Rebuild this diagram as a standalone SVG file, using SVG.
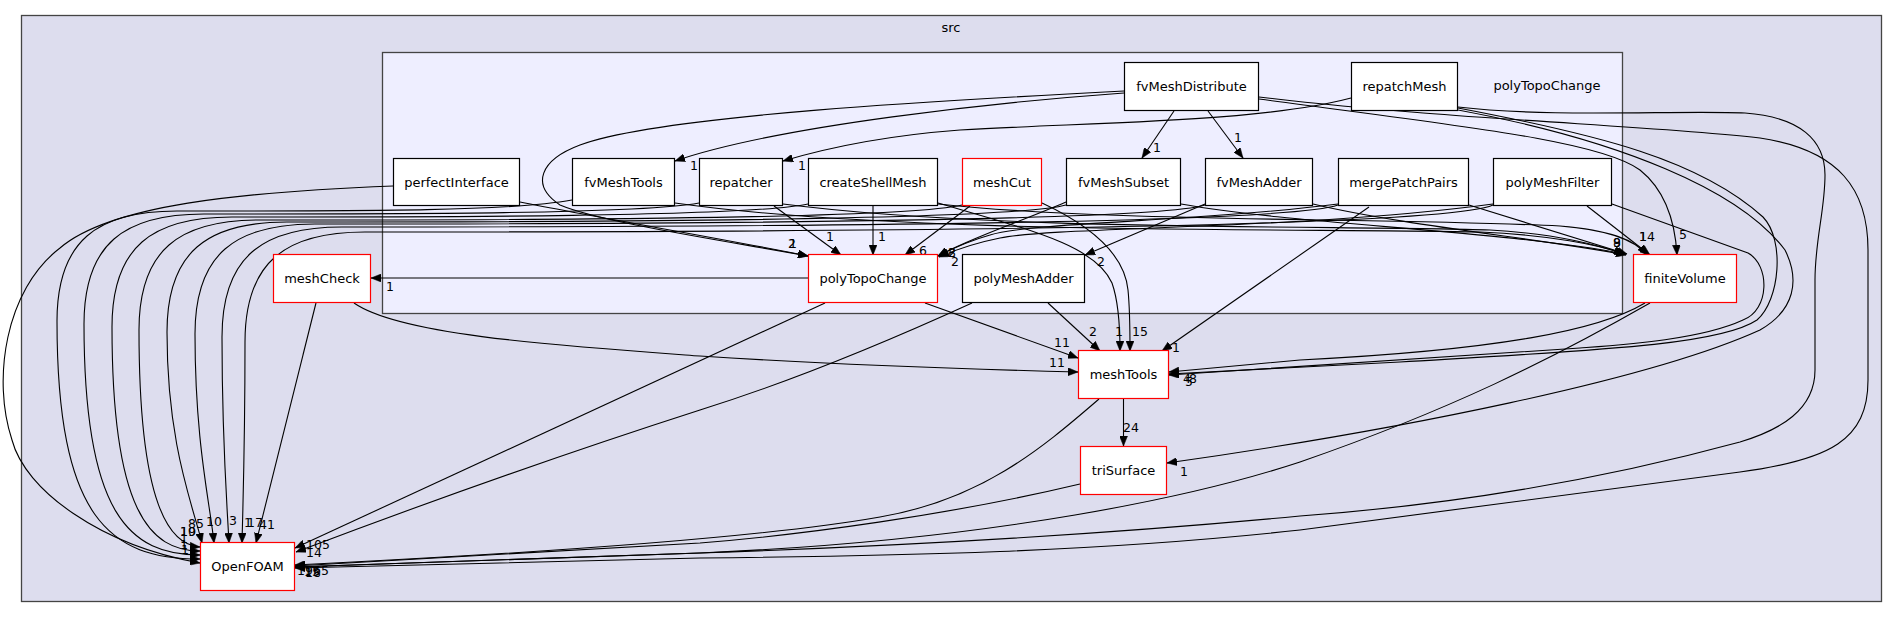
<svg xmlns="http://www.w3.org/2000/svg" width="1897" height="617" viewBox="0 0 1897 617">
<style>
text{font-family:"DejaVu Sans","Liberation Sans",sans-serif;font-size:13px;fill:#000}
.n text{text-anchor:middle}
.n rect{fill:#fff;stroke:#000;stroke-width:1.2}
.n.r rect{stroke:#f00}
.e path{fill:none;stroke:#000;stroke-width:1.1;marker-end:url(#ah)}
.l text{text-anchor:middle;font-size:12.5px}
</style>
<defs>
<marker id="ah" markerWidth="11" markerHeight="8" refX="10" refY="4" orient="auto" markerUnits="userSpaceOnUse"><path d="M0,0 L10,4 L0,8 z" fill="#000" stroke="#000" stroke-width="0.5"/></marker>
</defs>
<rect x="0" y="0" width="1897" height="617" fill="#fff"/>
<g id="cluster_src">
<rect x="21.5" y="15.5" width="1860" height="586" fill="#ddddee" stroke="#444" stroke-width="1.3"/>
<text x="951" y="32" text-anchor="middle">src</text>
</g>
<g id="cluster_polyTopoChange">
<rect x="382.5" y="52.5" width="1240" height="261" fill="#eeeeff" stroke="#444" stroke-width="1.3"/>
<text x="1547" y="90" text-anchor="middle">polyTopoChange</text>
</g>
<g id="edges" class="e">
<path d="M1174,111 L1142,158"/>
<path d="M1208,111 L1243,158"/>
<path d="M1124,93 C1000,102 780,125 675,161"/>
<path d="M1351,98 C1260,122 1100,122 960,130 C880,136 820,150 783,161"/>
<path d="M1124,91 C950,100 660,115 580,145 C540,160 530,185 560,205 C600,222 720,240 808,256"/>
<path d="M520,202 C600,218 730,240 808,256"/>
<path d="M393,186 C240,192 110,205 60,248 C5,290 -8,380 12,440 C25,490 100,545 200,563"/>
<path d="M572,200 C512,211 377,211 177,211 C97,211 57,241 57,321 C57,519 110,559 200,559"/>
<path d="M699,203 C639,214 404,214 204,214 C124,214 84,244 84,324 C84,515 130,555 200,555"/>
<path d="M808,204 C748,217 432,217 232,217 C152,217 112,247 112,327 C112,511 150,551 200,551"/>
<path d="M962,205 C902,220 459,220 259,220 C179,220 139,250 139,330 C139,507 170,545 200,547"/>
<path d="M1066,205 C1006,222 487,222 287,222 C207,222 167,252 167,332 C167,443 192,503 202,543"/>
<path d="M1205,205 C1145,224 515,224 315,224 C235,224 195,254 195,334 C195,443 210,503 214,543"/>
<path d="M1338,205 C1278,227 542,227 342,227 C262,227 222,257 222,337 C222,443 227,503 229,543"/>
<path d="M1493,205 C1433,232 565,232 365,232 C285,232 245,262 245,342 C245,443 243,503 242,543"/>
<path d="M316,303 L256,543"/>
<path d="M774,206 L841,255"/>
<path d="M873,206 L873,255"/>
<path d="M970,206 L905,255"/>
<path d="M1066,202 C1020,222 970,238 938,256"/>
<path d="M1338,204 C1200,222 1030,222 990,235 C965,242 950,250 938,256"/>
<path d="M1493,204 C1300,230 1060,226 1000,238 C975,243 955,250 939,257"/>
<path d="M1205,204 L1085,255"/>
<path d="M808,278 L371,278"/>
<path d="M925,303 L1078,358"/>
<path d="M354,303 C400,335 550,345 700,356 C850,366 1000,370 1078,372"/>
<path d="M1048,303 L1100,351"/>
<path d="M938,203 C1030,230 1095,245 1112,283 C1118,300 1120,330 1120,351"/>
<path d="M1042,203 C1100,230 1125,260 1128,290 C1130,310 1130,335 1130,351"/>
<path d="M1369,207 L1162,351"/>
<path d="M825,303 L295,548"/>
<path d="M972,303 C880,345 780,385 700,410 C560,455 420,505 296,552"/>
<path d="M1099,399 C1040,450 980,500 880,517 C750,540 500,555 295,565"/>
<path d="M1080,484 C950,515 800,535 700,543 L295,566"/>
<path d="M1650,303 C1550,360 1450,410 1300,462 C1200,495 1000,540 700,553 L295,567"/>
<path d="M1645,303 C1600,330 1500,350 1300,360 L1169,372"/>
<path d="M1123.5,399 L1123.5,446"/>
<path d="M1458,110 C1620,140 1740,190 1785,250 C1800,280 1795,310 1760,330 C1650,380 1400,430 1167,463"/>
<path d="M1458,108 C1600,135 1700,160 1763,217 C1785,240 1780,300 1757,320 C1720,345 1600,350 1400,362 L1169,374"/>
<path d="M1612,204 L1748,253 C1770,265 1770,310 1743,320 C1700,340 1620,345 1580,348 L1169,375"/>
<path d="M1259,99 C1450,125 1600,140 1640,170 C1665,190 1675,220 1677,255"/>
<path d="M1259,97 C1450,120 1650,125 1760,138 C1840,150 1868,190 1868,250 L1868,380 C1868,440 1830,460 1740,472 C1600,490 1450,510 1300,530 C1100,552 900,556 700,558 L295,568"/>
<path d="M1458,107 C1550,118 1680,110 1745,113 C1800,117 1825,140 1825,175 C1825,210 1815,240 1815,280 L1815,370 C1815,410 1780,430 1740,442 C1600,480 1450,505 1300,516 C1100,535 900,546 700,553 L295,567"/>
<path d="M675,203 C900,235 1300,228 1480,232 C1550,235 1600,245 1624,254"/>
<path d="M783,204 C1000,232 1350,225 1490,230 C1560,234 1600,246 1625,254"/>
<path d="M1181,204 C1300,225 1500,230 1626,254"/>
<path d="M1313,204 C1400,225 1550,240 1626,255"/>
<path d="M1469,205 L1627,254"/>
<path d="M1587,206 L1650,255"/>
<path d="M938,204 C1100,222 1400,218 1560,226 C1610,230 1635,240 1647,255"/>
</g>
<g id="edge_labels" class="l">
<text x="1157" y="152">1</text>
<text x="1238" y="142">1</text>
<text x="694" y="170">1</text>
<text x="802" y="170">1</text>
<text x="792" y="248">2</text>
<text x="793" y="248">1</text>
<text x="830" y="241">1</text>
<text x="882" y="241">1</text>
<text x="923" y="255">6</text>
<text x="955" y="266">2</text>
<text x="952" y="257">8</text>
<text x="952" y="257">2</text>
<text x="1101" y="266">2</text>
<text x="390" y="291">1</text>
<text x="1062" y="347">11</text>
<text x="1057" y="367">11</text>
<text x="1093" y="336">2</text>
<text x="1119" y="336">1</text>
<text x="1140" y="336">15</text>
<text x="1176" y="352">1</text>
<text x="1131" y="432">24</text>
<text x="1184" y="476">1</text>
<text x="1187" y="383">4</text>
<text x="1189" y="386">5</text>
<text x="1193" y="383">8</text>
<text x="1617" y="247">9</text>
<text x="1617" y="247">8</text>
<text x="1647" y="241">14</text>
<text x="1643" y="241">1</text>
<text x="1683" y="239">5</text>
<text x="196" y="528">85</text>
<text x="214" y="526">10</text>
<text x="233" y="525">3</text>
<text x="248" y="527">1</text>
<text x="255" y="527">17</text>
<text x="267" y="529">41</text>
<text x="188" y="536">19</text>
<text x="188" y="536">10</text>
<text x="184" y="543">1</text>
<text x="184" y="549">1</text>
<text x="185" y="554">1</text>
<text x="318" y="549">105</text>
<text x="314" y="557">14</text>
<text x="313" y="575">1965</text>
<text x="312" y="576">15</text>
<text x="313" y="577">18</text>
</g>
<g id="node_fvMeshDistribute" class="n"><rect x="1124.5" y="62.5" width="134" height="48"/><text x="1191.5" y="91">fvMeshDistribute</text></g>
<g id="node_repatchMesh" class="n"><rect x="1351.5" y="62.5" width="106" height="48"/><text x="1404.5" y="91">repatchMesh</text></g>
<g id="node_perfectInterface" class="n"><rect x="393.5" y="158.5" width="126" height="47"/><text x="456.5" y="186.5">perfectInterface</text></g>
<g id="node_fvMeshTools" class="n"><rect x="572.5" y="158.5" width="102" height="47"/><text x="623.5" y="186.5">fvMeshTools</text></g>
<g id="node_repatcher" class="n"><rect x="699.5" y="158.5" width="83" height="47"/><text x="741" y="186.5">repatcher</text></g>
<g id="node_createShellMesh" class="n"><rect x="808.5" y="158.5" width="129" height="47"/><text x="873" y="186.5">createShellMesh</text></g>
<g id="node_meshCut" class="n r"><rect x="962.5" y="158.5" width="79" height="47"/><text x="1002" y="186.5">meshCut</text></g>
<g id="node_fvMeshSubset" class="n"><rect x="1066.5" y="158.5" width="114" height="47"/><text x="1123.5" y="186.5">fvMeshSubset</text></g>
<g id="node_fvMeshAdder" class="n"><rect x="1205.5" y="158.5" width="107" height="47"/><text x="1259" y="186.5">fvMeshAdder</text></g>
<g id="node_mergePatchPairs" class="n"><rect x="1338.5" y="158.5" width="130" height="47"/><text x="1403.5" y="186.5">mergePatchPairs</text></g>
<g id="node_polyMeshFilter" class="n"><rect x="1493.5" y="158.5" width="118" height="47"/><text x="1552.5" y="186.5">polyMeshFilter</text></g>
<g id="node_meshCheck" class="n r"><rect x="273.5" y="254.5" width="97" height="48"/><text x="322" y="283">meshCheck</text></g>
<g id="node_polyTopoChange" class="n r"><rect x="808.5" y="254.5" width="129" height="48"/><text x="873" y="283">polyTopoChange</text></g>
<g id="node_polyMeshAdder" class="n"><rect x="962.5" y="254.5" width="122" height="48"/><text x="1023.5" y="283">polyMeshAdder</text></g>
<g id="node_finiteVolume" class="n r"><rect x="1633.5" y="254.5" width="103" height="48"/><text x="1685" y="283">finiteVolume</text></g>
<g id="node_meshTools" class="n r"><rect x="1078.5" y="350.5" width="90" height="48"/><text x="1123.5" y="379">meshTools</text></g>
<g id="node_triSurface" class="n r"><rect x="1080.5" y="446.5" width="86" height="48"/><text x="1123.5" y="475">triSurface</text></g>
<g id="node_OpenFOAM" class="n r"><rect x="200.5" y="542.5" width="94" height="48"/><text x="247.5" y="571">OpenFOAM</text></g>
</svg>
